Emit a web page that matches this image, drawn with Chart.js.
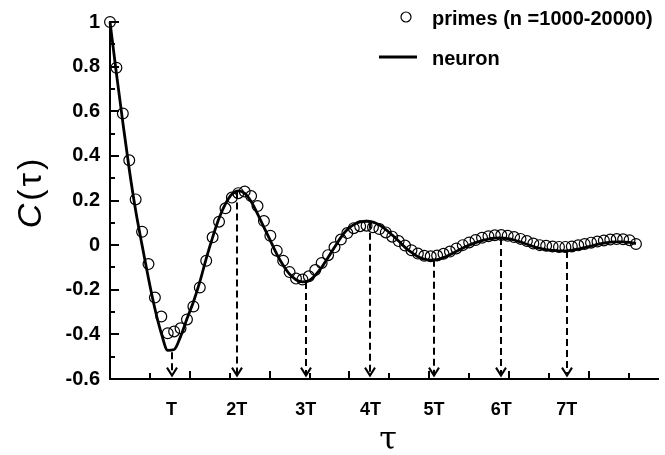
<!DOCTYPE html>
<html>
<head>
<meta charset="utf-8">
<script src="https://cdn.jsdelivr.net/npm/chart.js@4"></script>
<style>
  html, body { margin: 0; padding: 0; background: #fff; }
</style>
</head>
<body>
<canvas id="corr" width="665" height="455"></canvas>
<script>
// autocorrelation C(tau), sampled at lags 0..82
const primes = [
  1.0, 0.795, 0.59, 0.38, 0.205, 0.06, -0.085, -0.235, -0.32, -0.395,
  -0.387, -0.373, -0.333, -0.275, -0.19, -0.07, 0.035, 0.105, 0.165, 0.213,
  0.233, 0.24, 0.22, 0.175, 0.108, 0.042, -0.025, -0.07, -0.121, -0.15,
  -0.154, -0.14, -0.112, -0.08, -0.045, -0.01, 0.025, 0.054, 0.076, 0.085,
  0.087, 0.08, 0.072, 0.057, 0.038, 0.018, -0.002, -0.023, -0.038, -0.048,
  -0.05, -0.047, -0.039, -0.029, -0.015, 0.0, 0.012, 0.023, 0.033, 0.04,
  0.044, 0.045, 0.042, 0.036, 0.028, 0.018, 0.007, 0.0, -0.003, -0.006,
  -0.008, -0.008, -0.006, -0.001, 0.005, 0.011, 0.016, 0.021, 0.025, 0.027,
  0.026, 0.022, 0.005
];
const neuron = [
  1.0, 0.77, 0.55, 0.34, 0.155, 0.0, -0.15, -0.285, -0.395, -0.472,
  -0.468, -0.41, -0.33, -0.255, -0.165, -0.06, 0.035, 0.12, 0.185, 0.228,
  0.243, 0.232, 0.195, 0.14, 0.08, 0.02, -0.04, -0.09, -0.13, -0.155,
  -0.165, -0.16, -0.135, -0.1, -0.055, -0.01, 0.035, 0.07, 0.092, 0.104,
  0.107, 0.103, 0.09, 0.07, 0.045, 0.018, -0.01, -0.033, -0.052, -0.063,
  -0.067, -0.065, -0.056, -0.043, -0.028, -0.013, 0.0, 0.011, 0.02, 0.027,
  0.031, 0.032, 0.029, 0.023, 0.014, 0.004, -0.006, -0.014, -0.02, -0.024,
  -0.026, -0.026, -0.023, -0.018, -0.011, -0.004, 0.003, 0.009, 0.013, 0.015,
  0.015, 0.012, 0.007
];
const lags = primes.map((_, i) => i);

// multiples of the period T, with where the arrows start on the curve
const periodLabels = ["T", "2T", "3T", "4T", "5T", "6T", "7T"];
const periodLags = [9.6, 19.75, 30.5, 40.6, 50.5, 61.0, 71.2];
const periodTops = [-0.48, 0.24, -0.165, 0.105, -0.065, 0.032, -0.026];
const arrowEnd = -0.585;

const xMax = 85.5;
const xTickStep = 40 / 6.43;
const FONT = "'Liberation Sans', Arial, sans-serif";

const decor = {
  id: "decor",
  afterDatasetsDraw(chart) {
    const ctx = chart.ctx;
    const xs = chart.scales.x, ys = chart.scales.y;
    ctx.save();
    ctx.strokeStyle = "#000";
    periodLags.forEach((lag, i) => {
      const px = Math.round(xs.getPixelForValue(lag));
      const top = ys.getPixelForValue(periodTops[i]);
      const bot = ys.getPixelForValue(arrowEnd);
      ctx.lineWidth = 2;
      ctx.setLineDash([7, 4]);
      ctx.beginPath();
      ctx.moveTo(px, top);
      ctx.lineTo(px, bot);
      ctx.stroke();
      ctx.setLineDash([]);
      ctx.beginPath();
      ctx.moveTo(px - 5, bot - 8);
      ctx.lineTo(px, bot);
      ctx.lineTo(px + 5, bot - 8);
      ctx.stroke();
    });
    ctx.restore();
  },
  afterDraw(chart) {
    const ctx = chart.ctx;
    const xs = chart.scales.x, ys = chart.scales.y;
    const area = chart.chartArea;
    ctx.save();
    ctx.strokeStyle = "#000";
    ctx.fillStyle = "#000";
    ctx.lineWidth = 2;

    // inward ticks on y
    for (let k = -6; k <= 10; k++) {
      const py = Math.round(ys.getPixelForValue(k / 10));
      const len = k % 2 === 0 ? 9 : 5;
      ctx.beginPath();
      ctx.moveTo(area.left, py);
      ctx.lineTo(area.left + len, py);
      ctx.stroke();
    }
    // inward ticks on x
    for (let k = 1; k * xTickStep < xMax; k++) {
      const px = Math.round(xs.getPixelForValue(k * xTickStep));
      const len = k % 2 === 0 ? 8 : 6;
      ctx.beginPath();
      ctx.moveTo(px, area.bottom);
      ctx.lineTo(px, area.bottom - len);
      ctx.stroke();
    }

    // legend
    const ds = chart.data.datasets;
    ctx.font = "bold 20px " + FONT;
    ctx.textBaseline = "alphabetic";
    ctx.textAlign = "left";
    ctx.lineWidth = 1.2;
    ctx.beginPath();
    ctx.arc(406, 17, 5, 0, Math.PI * 2);
    ctx.stroke();
    ctx.fillText(ds[0].label, 432, 25);
    ctx.lineWidth = 2.8;
    ctx.beginPath();
    ctx.moveTo(379, 57);
    ctx.lineTo(417, 57);
    ctx.stroke();
    ctx.fillText(ds[1].label, 432, 65);

    // axis titles
    ctx.textAlign = "center";
    ctx.textBaseline = "middle";
    ctx.font = "32px 'DejaVu Serif', serif";
    ctx.fillText("\u03c4", (area.left + area.right) / 2 + 4, 441);

    ctx.translate(32, 192);
    ctx.rotate(-Math.PI / 2);
    ctx.textAlign = "left";
    ctx.font = "italic 34px " + FONT;
    const cW = ctx.measureText("C").width;
    ctx.font = "34px " + FONT;
    const parts = ["(", "\u03c4", ")"];
    const gap = 3;
    let total = cW + gap;
    parts.forEach((p) => { total += ctx.measureText(p).width + gap; });
    let pos = -total / 2;
    ctx.font = "italic 34px " + FONT;
    ctx.fillText("C", pos, 0);
    pos += cW + gap;
    ctx.font = "34px " + FONT;
    parts.forEach((p) => {
      ctx.fillText(p, pos, 0);
      pos += ctx.measureText(p).width + gap;
    });
    ctx.restore();
  }
};

new Chart(document.getElementById("corr"), {
  type: "line",
  data: {
    datasets: [
      {
        label: "primes (n =1000-20000)",
        data: lags.map((l, i) => ({ x: l, y: primes[i] })),
        showLine: false,
        pointStyle: "circle",
        pointRadius: 5.4,
        pointBorderWidth: 1.2,
        borderColor: "#000",
        backgroundColor: "rgba(0,0,0,0)",
        clip: false,
      },
      {
        label: "neuron",
        data: lags.map((l, i) => ({ x: l, y: neuron[i] })),
        borderColor: "#000",
        borderWidth: 2.8,
        pointRadius: 0,
        cubicInterpolationMode: "monotone",
        fill: false,
        clip: false,
      },
    ],
  },
  options: {
    responsive: false,
    animation: false,
    devicePixelRatio: 1,
    layout: { padding: { top: 17, right: 5, left: 0, bottom: 0 } },
    plugins: { legend: { display: false }, tooltip: { enabled: false } },
    scales: {
      x: {
        type: "linear",
        min: 0,
        max: xMax,
        afterBuildTicks: (s) => { s.ticks = periodLags.map((v) => ({ value: v })); },
        afterFit: (s) => { s.height = 76; },
        ticks: {
          autoSkip: false,
          maxRotation: 0,
          padding: 20,
          color: "#000",
          font: { family: FONT, size: 18, weight: "bold" },
          callback: (v, i) => periodLabels[i],
        },
        grid: { display: false, drawTicks: false },
        border: { display: true, color: "#000", width: 2 },
      },
      y: {
        min: -0.6,
        max: 1,
        afterFit: (s) => { s.width = 110; },
        ticks: {
          stepSize: 0.2,
          padding: 10,
          color: "#000",
          font: { family: FONT, size: 20, weight: "bold" },
          callback: (v) => String(Number(v.toFixed(1))),
        },
        grid: { display: false, drawTicks: false },
        border: { display: true, color: "#000", width: 2 },
      },
    },
  },
  plugins: [decor],
});
</script>
</body>
</html>
